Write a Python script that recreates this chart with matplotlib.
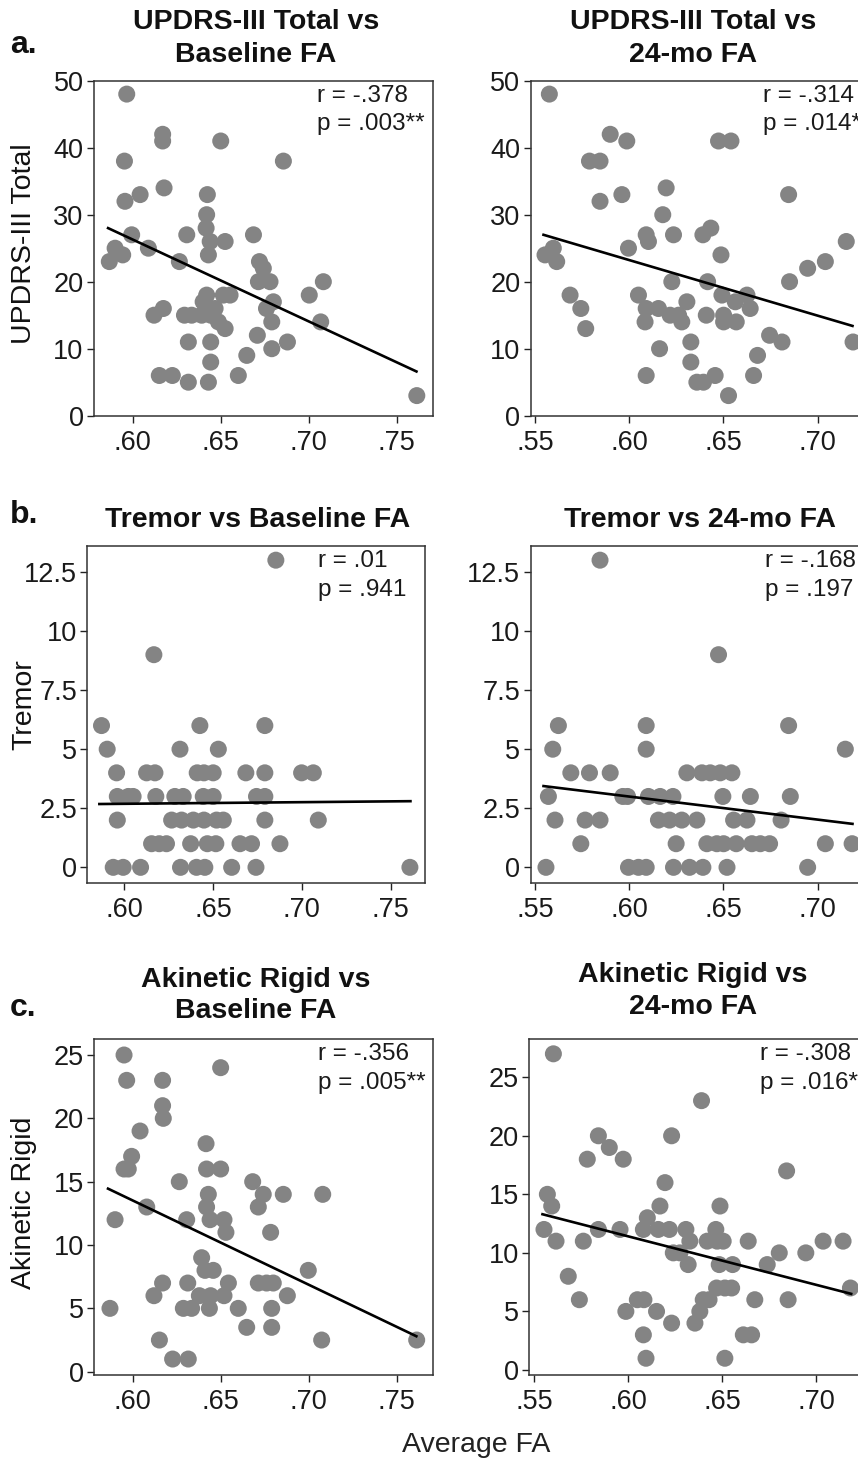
import matplotlib
matplotlib.use("Agg")
from matplotlib import pyplot as plt

plt.rcParams['font.family'] = ['Liberation Sans', 'DejaVu Sans']

W, H = 858, 1460
DOT = '#848484'

# ---- data ----
# a. UPDRS-III total
updrs_base_x = [0.5966, 0.5953, 0.5956, 0.6042, 0.5994, 0.5867, 0.590, 0.5943, 0.6089, 0.617,
                0.617, 0.6178, 0.6121, 0.6174, 0.6151, 0.6225, 0.6316, 0.6307, 0.6265, 0.6294,
                0.6335, 0.6316, 0.6424, 0.642, 0.6417, 0.644, 0.643, 0.642, 0.640, 0.6468,
                0.6392, 0.6443, 0.6487, 0.6525, 0.6443, 0.6443, 0.643, 0.65, 0.6515, 0.6553,
                0.6525, 0.660, 0.6648, 0.6686, 0.672, 0.6742, 0.6714, 0.678, 0.676, 0.6799,
                0.679, 0.6708, 0.679, 0.6856, 0.6879, 0.7003, 0.7083, 0.7068, 0.7614]
updrs_base_y = [48, 38, 32, 33, 27, 23, 25, 24, 25, 42,
                41, 34, 15, 16, 6, 6, 5, 27, 23, 15,
                15, 11, 33, 30, 28, 26, 24, 18, 17, 16,
                15, 15, 14, 13, 11, 8, 5, 41, 18, 18,
                26, 6, 9, 27, 23, 22, 20, 20, 16, 17,
                14, 12, 10, 38, 11, 18, 20, 14, 3]
updrs_24_x = [0.5576, 0.5553, 0.5597, 0.5615, 0.5686, 0.5743, 0.5769, 0.5789, 0.5845, 0.5845,
              0.5899, 0.5961, 0.5987, 0.5996, 0.6049, 0.609, 0.6102, 0.609, 0.6084, 0.609,
              0.6155, 0.6161, 0.6178, 0.6196, 0.6235, 0.6226, 0.6217, 0.6262, 0.6279, 0.6306,
              0.6327, 0.6327, 0.6359, 0.6394, 0.6391, 0.6433, 0.6416, 0.6409, 0.6456, 0.6487,
              0.6492, 0.6501, 0.6501, 0.6474, 0.654, 0.6527, 0.6563, 0.6568, 0.6625, 0.6642,
              0.666, 0.6681, 0.6745, 0.6811, 0.6851, 0.6846, 0.6947, 0.7041, 0.7152, 0.7188]
updrs_24_y = [48, 24, 25, 23, 18, 16, 13, 38, 38, 32,
              42, 33, 41, 25, 18, 27, 26, 16, 14, 6,
              16, 10, 30, 34, 27, 20, 15, 15, 14, 17,
              11, 8, 5, 5, 27, 28, 20, 15, 6, 24,
              18, 15, 14, 41, 41, 3, 17, 14, 18, 16,
              6, 9, 12, 11, 20, 33, 22, 23, 26, 11]

# b. tremor
tremor_base_x = [0.5872, 0.5904, 0.5957, 0.5961, 0.6023, 0.605, 0.5961, 0.5938, 0.5994, 0.6092,
                 0.6167, 0.6126, 0.6173, 0.6178, 0.6154, 0.6197, 0.6238, 0.6314, 0.6285, 0.6332,
                 0.6267, 0.6323, 0.6374, 0.6317, 0.6426, 0.6411, 0.6449, 0.6501, 0.6445, 0.6501,
                 0.6389, 0.6449, 0.652, 0.6558, 0.6468, 0.6516, 0.6407, 0.6454, 0.653, 0.6605,
                 0.6652, 0.6717, 0.6685, 0.6745, 0.6792, 0.6792, 0.6792, 0.6792, 0.6742, 0.6877,
                 0.6854, 0.6999, 0.7065, 0.7093, 0.7609]
tremor_base_y = [6, 5, 4, 3, 3, 3, 2, 0, 0, 0,
                 9, 4, 4, 3, 1, 1, 1, 5, 3, 3,
                 2, 2, 1, 0, 6, 4, 4, 4, 3, 3,
                 2, 2, 2, 2, 1, 1, 0, 0, 5, 0,
                 1, 1, 4, 3, 3, 4, 6, 2, 0, 1,
                 13, 4, 4, 2, 0]
tremor_24_x = [0.5558, 0.5571, 0.5606, 0.5594, 0.5624, 0.569, 0.5743, 0.5766, 0.5789, 0.5845,
               0.5845, 0.5899, 0.5966, 0.5991, 0.5996, 0.6049, 0.609, 0.609, 0.609, 0.6102,
               0.6164, 0.6232, 0.6155, 0.6214, 0.6279, 0.6359, 0.6249, 0.6235, 0.632, 0.6391,
               0.6306, 0.6386, 0.643, 0.6483, 0.6545, 0.6412, 0.6465, 0.6501, 0.6568, 0.6474,
               0.6497, 0.6554, 0.6625, 0.6519, 0.6643, 0.6651, 0.6696, 0.6745, 0.6806, 0.6846,
               0.6855, 0.6947, 0.7041, 0.7147, 0.7183]
tremor_24_y = [0, 3, 2, 5, 6, 4, 1, 2, 4, 2,
               13, 4, 3, 3, 0, 0, 0, 6, 5, 3,
               3, 3, 2, 2, 2, 2, 1, 0, 0, 0,
               4, 4, 4, 4, 4, 1, 1, 1, 1, 9,
               3, 2, 2, 0, 3, 1, 1, 1, 2, 6,
               3, 0, 1, 5, 1]

# c. akinetic rigid
ar_base_x = [0.5871, 0.59, 0.5951, 0.5966, 0.5951, 0.5975, 0.5994, 0.6042, 0.608, 0.6121,
             0.617, 0.6152, 0.617, 0.617, 0.6174, 0.6227, 0.6316, 0.6265, 0.6307, 0.6313,
             0.6288, 0.6335, 0.6417, 0.642, 0.643, 0.642, 0.644, 0.6392, 0.6411, 0.6458,
             0.6379, 0.6443, 0.6436, 0.65, 0.65, 0.6519, 0.653, 0.6544, 0.6519, 0.66,
             0.6648, 0.6682, 0.6742, 0.6714, 0.6784, 0.6714, 0.6761, 0.6799, 0.679, 0.679,
             0.6856, 0.6879, 0.6998, 0.708, 0.7074, 0.7614]
ar_base_y = [5, 12, 25, 23, 16, 16, 17, 19, 13, 6,
             7, 2.5, 23, 21, 20, 1, 1, 15, 12, 7,
             5, 5, 18, 16, 14, 13, 12, 9, 8, 8,
             6, 6, 5, 16, 24, 12, 11, 7, 6, 5,
             3.5, 15, 14, 13, 11, 7, 7, 7, 5, 3.5,
             14, 6, 8, 14, 2.5, 2.5]
ar_24_x = [0.5603, 0.5571, 0.5594, 0.5553, 0.5617, 0.5682, 0.5741, 0.5762, 0.5783, 0.5842,
           0.5842, 0.59, 0.5957, 0.5974, 0.5988, 0.6049, 0.6084, 0.6081, 0.6095, 0.6102,
           0.6081, 0.616, 0.6219, 0.6169, 0.6196, 0.6151, 0.6231, 0.6231, 0.624, 0.6275,
           0.6307, 0.6328, 0.6319, 0.6355, 0.639, 0.6381, 0.6399, 0.643, 0.642, 0.6466,
           0.6473, 0.6488, 0.6505, 0.647, 0.6514, 0.655, 0.6484, 0.6555, 0.6514, 0.6612,
           0.6656, 0.6638, 0.6673, 0.6739, 0.6803, 0.6842, 0.685, 0.6944, 0.7036, 0.7142,
           0.7181]
ar_24_y = [27, 15, 14, 12, 11, 8, 6, 11, 18, 20,
           12, 19, 12, 18, 5, 6, 6, 3, 1, 13,
           12, 12, 12, 14, 16, 5, 20, 4, 10, 10,
           12, 11, 9, 4, 23, 5, 6, 6, 11, 12,
           11, 14, 11, 7, 7, 7, 9, 9, 1, 3,
           3, 11, 6, 9, 10, 17, 6, 10, 11, 11,
           7]

# fitted lines (end points)
fit_base_x = [0.586, 0.7612]
fit_24_x = [0.5545, 0.7185]
updrs_base_fit = [28.0, 6.6]
updrs_24_fit = [27.0, 13.4]
tremor_base_fit = [2.68, 2.8]
tremor_24_fit = [3.44, 1.84]
ar_base_fit = [14.45, 2.8]
ar_24_fit = [13.3, 6.5]

stats = {
    'updrs_base': ('r = -.378', 'p = .003**'),
    'updrs_24': ('r = -.314', 'p = .014*'),
    'tremor_base': ('r = .01', 'p = .941'),
    'tremor_24': ('r = -.168', 'p = .197'),
    'ar_base': ('r = -.356', 'p = .005**'),
    'ar_24': ('r = -.308', 'p = .016*'),
}

base_xticks = [0.60, 0.65, 0.70, 0.75]
base_xlabels = ['.60', '.65', '.70', '.75']
mo24_xticks = [0.55, 0.60, 0.65, 0.70]
mo24_xlabels = ['.55', '.60', '.65', '.70']
updrs_yticks = [0, 10, 20, 30, 40, 50]
tremor_yticks = [0, 2.5, 5, 7.5, 10, 12.5]
tremor_ylabels = ['0', '2.5', '5', '7.5', '10', '12.5']
ar_yticks = [0, 5, 10, 15, 20, 25]


fig = plt.figure(figsize=(W / 100, H / 100), dpi=100)


def box(x0, y0, x1, y1):
    # pixel box (top-left origin) -> figure fraction
    return [x0 / W, 1 - y1 / H, (x1 - x0) / W, (y1 - y0) / H]


def panel(rect, xs, ys, fx, fy, xlim, ylim, xt, xl, yt, yl, key, tx):
    ax = fig.add_axes(rect)
    ax.scatter(xs, ys, s=150, color=DOT, edgecolors='none', zorder=2, clip_on=False)
    ax.plot(fx, fy, color='black', lw=1.9, zorder=3)
    ax.set_xlim(*xlim)
    ax.set_ylim(*ylim)
    ax.set_xticks(xt)
    ax.set_xticklabels(xl)
    ax.set_yticks(yt)
    ax.set_yticklabels(yl)
    ax.tick_params(direction='out', length=5, width=1, labelsize=19.5, pad=2.5,
                   colors='#222222', labelcolor='#1a1a1a')
    ax.tick_params(axis='x', pad=5)
    for sp in ax.spines.values():
        sp.set_linewidth(1.1)
        sp.set_color('#333333')
    r_txt, p_txt = stats[key]
    ax.text(tx, 0.955, r_txt, transform=ax.transAxes, fontsize=17.5, va='center', ha='left',
            color='#1a1a1a')
    ax.text(tx, 0.87, p_txt, transform=ax.transAxes, fontsize=17.5, va='center', ha='left',
            color='#1a1a1a')
    return ax


xl_base = (0.578, 0.7706)
xl_24 = (0.5477, 0.7278)

panel(box(94, 80.7, 433, 415.7), updrs_base_x, updrs_base_y, fit_base_x, updrs_base_fit,
      xl_base, (0, 50), base_xticks, base_xlabels, updrs_yticks, updrs_yticks, 'updrs_base', 0.658)
panel(box(530.7, 80.7, 870, 415.7), updrs_24_x, updrs_24_y, fit_24_x, updrs_24_fit,
      xl_24, (0, 50), mo24_xticks, mo24_xlabels, updrs_yticks, updrs_yticks, 'updrs_24', 0.686)

panel(box(87.3, 546, 425, 882.7), tremor_base_x, tremor_base_y, fit_base_x, tremor_base_fit,
      (0.5792, 0.7694), (-0.65, 13.6), base_xticks, base_xlabels, tremor_yticks, tremor_ylabels,
      'tremor_base', 0.684)
panel(box(530.7, 546, 870, 882.7), tremor_24_x, tremor_24_y, fit_24_x, tremor_24_fit,
      xl_24, (-0.65, 13.6), mo24_xticks, mo24_xlabels, tremor_yticks, tremor_ylabels,
      'tremor_24', 0.691)

panel(box(94.3, 1039.3, 432.7, 1375), ar_base_x, ar_base_y, fit_base_x, ar_base_fit,
      (0.5782, 0.7705), (-0.26, 26.24), base_xticks, base_xlabels, ar_yticks, ar_yticks,
      'ar_base', 0.661)
panel(box(529.3, 1039.3, 868.3, 1375), ar_24_x, ar_24_y, fit_24_x, ar_24_fit,
      (0.5475, 0.7276), (-0.43, 28.24), mo24_xticks, mo24_xlabels, ar_yticks, ar_yticks,
      'ar_24', 0.68)


def ftext(x, y, s, **kw):
    fig.text(x / W, 1 - y / H, s, **kw)


title_kw = dict(fontsize=20.5, fontweight='bold', ha='center', va='center', color='#111111')
ftext(256, 22, 'UPDRS-III Total vs', **title_kw)
ftext(256, 55, 'Baseline FA', **title_kw)
ftext(693, 22, 'UPDRS-III Total vs', **title_kw)
ftext(693, 55, '24-mo FA', **title_kw)
ftext(258, 520, 'Tremor vs Baseline FA', **title_kw)
ftext(700, 520, 'Tremor vs 24-mo FA', **title_kw)
ftext(256, 980, 'Akinetic Rigid vs', **title_kw)
ftext(256, 1011, 'Baseline FA', **title_kw)
ftext(693, 975, 'Akinetic Rigid vs', **title_kw)
ftext(693, 1007, '24-mo FA', **title_kw)

letter_kw = dict(fontsize=23, fontweight='bold', ha='left', va='center', color='#111111')
ftext(10, 45, 'a.', **letter_kw)
ftext(10, 515, 'b.', **letter_kw)
ftext(10, 1008, 'c.', **letter_kw)

ylab_kw = dict(fontsize=20.5, rotation=90, ha='center', va='center', color='#111111')
ftext(24, 244, 'UPDRS-III Total', **ylab_kw)
ftext(24, 705, 'Tremor', **ylab_kw)
ftext(24, 1203, 'Akinetic Rigid', **ylab_kw)

ftext(476, 1445, 'Average FA', fontsize=20.5, ha='center', va='center', color='#222222')

fig.savefig('out.png', dpi=100)
